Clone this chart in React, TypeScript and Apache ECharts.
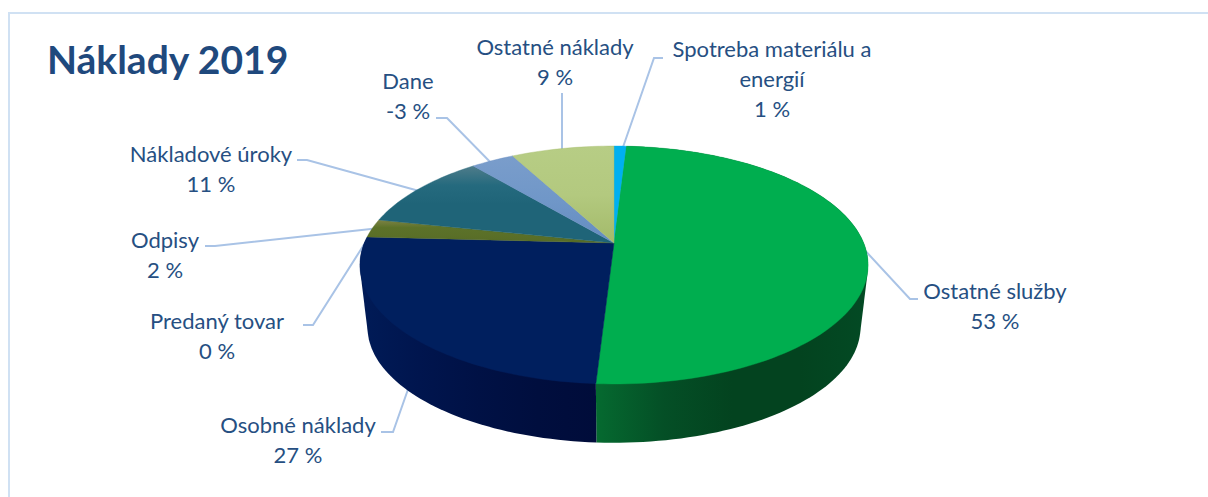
import React, { useEffect, useRef } from "react";
import * as echarts from "echarts";

const TITLE = "Náklady 2019";
// Order is clockwise from twelve o'clock, as drawn in the reference.
const categories = ["Spotreba materiálu a\nenergií", "Ostatné služby", "Osobné náklady", "Predaný tovar", "Odpisy", "Nákladové úroky", "Dane", "Ostatné náklady"];
const percentLabels = ["1 %", "53 %", "27 %", "0 %", "2 %", "11 %", "-3 %", "9 %"];
// Slice sizes (the negative item is drawn by its size).
const sliceValues = [1, 53, 26.4, 0, 2.65, 11.15, 3.5, 8.3];

const topColors = [
  ["#00b0f0", "#00b0f0"],
  ["#00ae4f", "#00ae4f"],
  ["#001f5e", "#001f5e"],
  ["#001f5e", "#001f5e"],
  ["#7d8245", "#5c7229", "#5a6f28", "#566c26"],
  ["#4f7c8a", "#256a7e", "#1f6478", "#1f6478", "#1f6478"],
  ["#7a9dcb", "#7097c8", "#648cc0"],
  ["#b7cd85", "#b3c97f", "#a3ba6a"],
];
const wallColors = [
  ["#0080b0", "#0080b0"],
  ["#056a30", "#044f26", "#03431f", "#03431f", "#034a24"],
  ["#001b57", "#00154e", "#001145", "#000e3e", "#000c3a"],
  ["#001b57", "#001b57"],
  ["#3f5020", "#3f5020"],
  ["#154550", "#154550"],
  ["#4a6c95", "#4a6c95"],
  ["#7a8d50", "#7a8d50"],
];

const labelCenters = [[772, 78], [995, 305], [298, 439], [217, 335.5], [165, 254], [211, 168], [408, 95], [555, 61]];
const leaderLines = [
  [[622, 150], [654, 58], [663, 58]],
  [[860, 245], [910, 299], [918, 299]],
  [[412, 378], [393, 432], [381, 432]],
  [[372, 232], [313, 325], [303, 325]],
  [[380, 228], [215, 246], [205, 246]],
  [[430, 194], [307, 160], [297, 160]],
  [[500, 172], [447, 118], [436, 118]],
  [[562, 160], [562, 93]],
];

const TEXT_COLOR = "#264f82";
const LINE_COLOR = "#a9c3e6";
const FONT = "Lato, Carlito, Calibri, sans-serif";

// Pie plate under perspective: a circle mapped through a projective transform.
const APEX_X = 614;
const APEX_Y = 243;
const PLATE_A = 249.7;
const PLATE_B = 114.9;
const PERSPECTIVE = -0.1849;
const BOTTOM_APEX_Y = 306;
const BOTTOM_SCALE = 0.97;

function project(deg: number, apexY: number, scale: number): number[] {
  const t = (deg * Math.PI) / 180;
  const X = Math.sin(t);
  const Y = -Math.cos(t);
  const w = 1 + PERSPECTIVE * Y;
  return [APEX_X + (scale * PLATE_A * X) / w, apexY + (scale * PLATE_B * Y) / w];
}

function arc(from: number, to: number, apexY: number, scale: number): number[][] {
  const steps = Math.max(2, Math.ceil((to - from) / 1.5));
  const pts: number[][] = [];
  for (let i = 0; i <= steps; i++) pts.push(project(from + ((to - from) * i) / steps, apexY, scale));
  return pts;
}

function convexHull(input: number[][]): number[][] {
  const pts = [...input].sort((p, q) => p[0] - q[0] || p[1] - q[1]);
  const cross = (o: number[], a: number[], b: number[]) => (a[0] - o[0]) * (b[1] - o[1]) - (a[1] - o[1]) * (b[0] - o[0]);
  const half = (list: number[][]) => {
    const out: number[][] = [];
    for (const p of list) {
      while (out.length >= 2 && cross(out[out.length - 2], out[out.length - 1], p) <= 0) out.pop();
      out.push(p);
    }
    out.pop();
    return out;
  };
  return [...half(pts), ...half([...pts].reverse())];
}

const total = sliceValues.reduce((a, b) => a + b, 0);
function sliceAngles(index: number): [number, number] {
  let sum = 0;
  for (let i = 0; i < index; i++) sum += sliceValues[i];
  return [(sum / total) * 360, ((sum + sliceValues[index]) / total) * 360];
}

function gradient(colors: string[], horizontal: boolean) {
  return {
    type: "linear",
    x: 0,
    y: 0,
    x2: horizontal ? 1 : 0,
    y2: horizontal ? 0 : 1,
    colorStops: colors.map((color, i) => ({ offset: i / (colors.length - 1), color })),
  };
}

export default function App() {
  const ref = useRef<HTMLDivElement>(null);
  useEffect(() => {
    const chart = echarts.init(ref.current!, undefined, { renderer: "svg" });
    const sliceData = sliceValues.map((v, i) => [i, v]);

    const renderLine = (_: any, api: any) => {
      const pts = leaderLines[api.value(0)];
      return {
        type: "polyline",
        shape: { points: pts },
        style: { stroke: LINE_COLOR, fill: "none", lineWidth: 2 },
      };
    };
    const renderWall = (_: any, api: any) => {
      const i = api.value(0);
      const [a, b] = sliceAngles(i);
      const mid = (a + b) / 2;
      // only the slices that face the viewer show a wall
      if (api.value(1) <= 0 || mid < 90 || mid > 270) return { type: "group", children: [] };
      const outline = convexHull([...arc(a, b, APEX_Y, 1), ...arc(a, b, BOTTOM_APEX_Y, BOTTOM_SCALE)]);
      return { type: "polygon", shape: { points: outline }, style: { fill: gradient(wallColors[i], true) } };
    };
    const renderTop = (_: any, api: any) => {
      const i = api.value(0);
      if (api.value(1) <= 0) return { type: "group", children: [] };
      const [a, b] = sliceAngles(i);
      const poly = [[APEX_X, APEX_Y], ...arc(a, b, APEX_Y, 1)];
      return {
        type: "polygon",
        shape: { points: poly },
        style: { fill: gradient(topColors[i], false), stroke: topColors[i][topColors[i].length - 1], lineWidth: 0.4 },
      };
    };

    chart.setOption({
      animation: false,
      backgroundColor: "#ffffff",
      graphic: [
        {
          type: "polyline",
          z: 1,
          shape: { points: [[9, 497], [9, 13], [1208, 13]] },
          style: { stroke: "#d0e1f3", fill: "none", lineWidth: 2 },
        },
        {
          type: "text",
          z: 10,
          x: 47,
          y: 59,
          style: { text: TITLE, fontFamily: FONT, fontSize: 39, fontWeight: "bold", fill: "#1f497d", align: "left", verticalAlign: "middle" },
        },
        ...categories.map((name, i) => ({
          type: "text",
          z: 10,
          x: labelCenters[i][0],
          y: labelCenters[i][1],
          style: {
            text: `${name}\n${percentLabels[i]}`,
            fontFamily: FONT,
            fontSize: 22,
            lineHeight: 30,
            fill: TEXT_COLOR,
            align: "center",
            verticalAlign: "middle",
          },
        })),
      ],
      series: [
        { type: "custom", coordinateSystem: "none", z: 1, silent: true, data: sliceData, renderItem: renderLine },
        { type: "custom", coordinateSystem: "none", z: 2, silent: true, data: sliceData, renderItem: renderWall },
        { type: "custom", coordinateSystem: "none", z: 3, silent: true, data: sliceData, renderItem: renderTop },
      ],
    });
    return () => chart.dispose();
  }, []);
  return <div ref={ref} style={{ position: "fixed", left: 0, top: 0, width: 1208, height: 497 }} />;
}
